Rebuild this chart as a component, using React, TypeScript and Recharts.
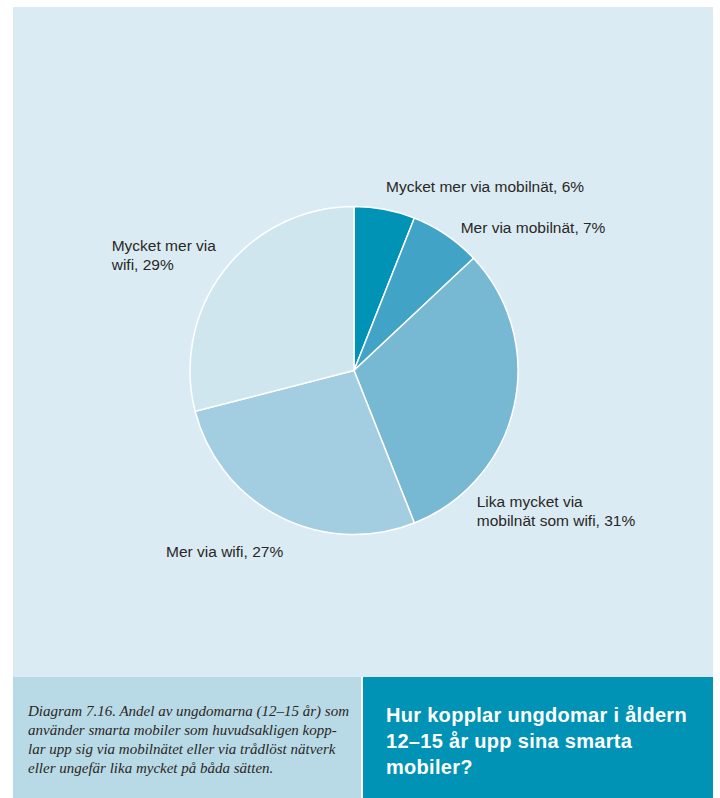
import React from "react";
import { PieChart, Pie, Cell } from "recharts";

const categories = [
  "Mycket mer via mobilnät",
  "Mer via mobilnät",
  "Lika mycket via mobilnät som wifi",
  "Mer via wifi",
  "Mycket mer via wifi",
];
const values = [6, 7, 31, 27, 29];
const labelTexts = [
  ["Mycket mer via mobilnät, 6%"],
  ["Mer via mobilnät, 7%"],
  ["Lika mycket via", "mobilnät som wifi, 31%"],
  ["Mer via wifi, 27%"],
  ["Mycket mer via", "wifi, 29%"],
];
const captionLines = [
  "Diagram 7.16. Andel av ungdomarna (12–15 år) som",
  "använder smarta mobiler som huvudsakligen kopp-",
  "lar upp sig via mobilnätet eller via trådlöst nätverk",
  "eller ungefär lika mycket på båda sätten.",
];
const titleLines = ["Hur kopplar ungdomar i åldern", "12–15 år upp sina smarta", "mobiler?"];

const sliceColors = ["#0093B5", "#41A3C5", "#77B8D3", "#A3CEE1", "#D0E6EF"];
// label offsets relative to the arc point at each slice's mid angle (dx, dy to first baseline)
const labelOffsets = [
  [1.3, -17.7],
  [14.5, -1.6],
  [-37.3, 100.4],
  [-113.5, 40.1],
  [-112.7, -19.3],
];

const data = categories.map((c, i) => ({ name: c, value: values[i] }));
const RAD = Math.PI / 180;

const renderLabel = (p: any) => {
  const { cx, cy, midAngle, outerRadius, index } = p;
  const ax = cx + outerRadius * Math.cos(-midAngle * RAD);
  const ay = cy + outerRadius * Math.sin(-midAngle * RAD);
  const [dx, dy] = labelOffsets[index];
  const x = ax + dx;
  const y = ay + dy;
  return (
    <text
      x={x}
      y={y}
      textAnchor="start"
      fill="#2b2724"
      fontFamily="'Liberation Sans', Arial, sans-serif"
      fontSize={15.5}
    >
      {labelTexts[index].map((t, k) => (
        <tspan key={k} x={x} dy={k === 0 ? 0 : 19}>
          {t}
        </tspan>
      ))}
    </text>
  );
};

export default function App() {
  return (
    <div style={{ position: "absolute", left: 0, top: 0, width: 720, height: 798, background: "#ffffff" }}>
      <div style={{ position: "absolute", left: 13, top: 7, width: 700, height: 670, background: "#DAEBF4" }}>
        <PieChart width={700} height={670} margin={{ top: 0, right: 0, bottom: 0, left: 0 }}>
          <Pie
            data={data}
            dataKey="value"
            nameKey="name"
            cx={341}
            cy={363.5}
            outerRadius={164}
            startAngle={90}
            endAngle={-270}
            stroke="#ffffff"
            strokeWidth={1.5}
            label={renderLabel}
            labelLine={false}
            isAnimationActive={false}
          >
            {data.map((d, i) => (
              <Cell key={d.name} fill={sliceColors[i]} />
            ))}
          </Pie>
        </PieChart>
      </div>
      <div
        style={{
          position: "absolute",
          left: 13,
          top: 677,
          width: 348,
          height: 121,
          background: "#B8DAE6",
        }}
      >
        <div
          style={{
            position: "absolute",
            left: 15,
            top: 25,
            fontFamily: "'Liberation Serif', 'Times New Roman', serif",
            fontStyle: "italic",
            fontSize: 15,
            lineHeight: "19px",
            color: "#2b2724",
            whiteSpace: "nowrap",
          }}
        >
          {captionLines.map((l, i) => (
            <div key={i}>{l}</div>
          ))}
        </div>
      </div>
      <div
        style={{
          position: "absolute",
          left: 363,
          top: 677,
          width: 350,
          height: 121,
          background: "#0093B5",
        }}
      >
        <div
          style={{
            position: "absolute",
            left: 23,
            top: 25,
            fontFamily: "'Liberation Sans', Arial, sans-serif",
            fontWeight: "bold",
            fontSize: 20,
            letterSpacing: 0.3,
            lineHeight: "26px",
            color: "#ffffff",
            whiteSpace: "nowrap",
          }}
        >
          {titleLines.map((l, i) => (
            <div key={i}>{l}</div>
          ))}
        </div>
      </div>
    </div>
  );
}
